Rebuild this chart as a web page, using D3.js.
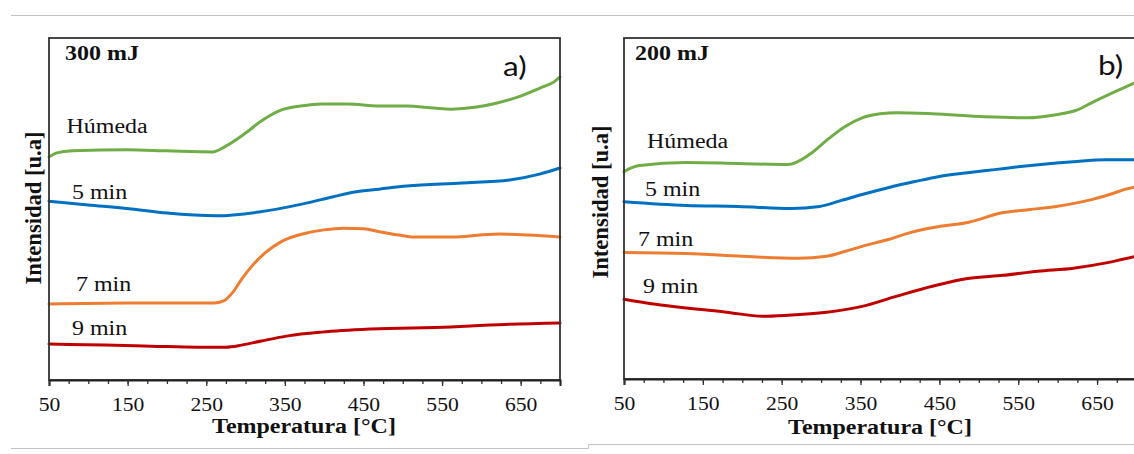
<!DOCTYPE html>
<html>
<head>
<meta charset="utf-8">
<script src="https://cdn.jsdelivr.net/npm/d3@7"></script>
<style>
  html, body { margin: 0; padding: 0; background: #fff; }
  svg { display: block; }
</style>
</head>
<body>
<svg id="chart" width="1134" height="454"></svg>
<script>
// Temperature grid and tick labels shared by both panels
const xTicksMajor = [50, 150, 250, 350, 450, 550, 650];
const xTicksMinor = [50, 75, 100, 125, 150, 175, 200, 225, 250, 275, 300, 325, 350, 375, 400, 425, 450, 475, 500, 525, 550, 575, 600, 625, 650, 675, 700];
const seriesNames = ["Húmeda", "5 min", "7 min", "9 min"];

// Panel a) 300 mJ — intensity [u.a] versus temperature [°C]
const a_humeda_T = [50, 60, 80, 150, 200, 258, 275, 300, 320, 345, 370, 397, 430, 470, 505, 540, 561, 594, 620, 646, 678, 692, 700];
const a_humeda_I = [65.2, 66.4, 67.0, 67.3, 67.0, 66.7, 68.4, 72.2, 75.7, 78.9, 80.1, 80.7, 80.7, 80.1, 80.1, 79.5, 79.2, 79.8, 81.0, 82.7, 85.7, 87.1, 88.6];
const a_5min_T = [50, 100, 155, 200, 263, 317, 373, 410, 439, 470, 505, 575, 636, 674, 700];
const a_5min_I = [52.3, 51.2, 50.0, 48.8, 48.0, 49.1, 51.5, 53.5, 55.0, 55.8, 56.7, 57.6, 58.5, 60.2, 62.0];
const a_7min_T = [50, 150, 260, 272, 284, 296, 307, 326, 345, 378, 400, 425, 450, 472, 495, 514, 561, 622, 660, 700];
const a_7min_I = [22.2, 22.5, 22.5, 23.1, 25.7, 29.8, 33.0, 37.4, 40.4, 43.0, 43.9, 44.4, 44.2, 43.3, 42.4, 41.8, 41.8, 42.7, 42.4, 41.8];
const a_9min_T = [50, 120, 180, 240, 275, 295, 320, 354, 397, 460, 561, 610, 700];
const a_9min_I = [10.5, 10.2, 9.9, 9.6, 9.6, 10.2, 11.4, 12.9, 14.0, 14.9, 15.5, 16.1, 16.7];

// Panel b) 200 mJ
const b_humeda_T = [50, 60, 70, 129, 195, 258, 285, 308, 330, 352, 375, 396, 441, 508, 562, 598, 625, 643, 678, 700];
const b_humeda_I = [60.8, 62.0, 62.6, 63.5, 63.2, 62.9, 65.8, 70.2, 74.0, 76.6, 77.8, 78.1, 77.8, 76.9, 76.6, 77.5, 78.9, 81.0, 84.8, 87.1];
const b_5min_T = [50, 129, 195, 262, 298, 325, 352, 385, 419, 450, 486, 520, 553, 620, 660, 700];
const b_5min_I = [52.0, 50.9, 50.6, 50.0, 50.6, 52.3, 54.1, 56.1, 57.9, 59.4, 60.5, 61.4, 62.3, 63.7, 64.3, 64.3];
const b_7min_T = [50, 129, 200, 271, 307, 330, 352, 385, 414, 450, 486, 531, 565, 598, 643, 670, 685, 700];
const b_7min_I = [37.1, 36.8, 36.0, 35.4, 36.0, 37.4, 38.9, 40.9, 43.0, 44.7, 45.9, 48.8, 49.7, 50.6, 52.6, 54.4, 55.6, 56.4];
const b_9min_T = [50, 90, 129, 180, 226, 258, 307, 352, 396, 441, 486, 531, 575, 620, 665, 700];
const b_9min_I = [23.4, 21.9, 20.8, 19.6, 18.4, 18.7, 19.6, 21.3, 24.3, 27.2, 29.5, 30.4, 31.6, 32.5, 34.2, 36.0];

const colors = ["#70AD47", "#0070C0", "#ED7D31", "#C00000"];
const SX = 1.17; // horizontal text stretch

function zip(T, I) { return T.map((t, i) => ({ t, v: I[i] })); }

const panels = [
  {
    title: "300 mJ", tag: "a)",
    x0: 49, x1: 560, y0: 38, y1: 380,
    series: [zip(a_humeda_T, a_humeda_I), zip(a_5min_T, a_5min_I), zip(a_7min_T, a_7min_I), zip(a_9min_T, a_9min_I)],
    labelPos: [[66.5, 133], [72, 199], [76, 291], [72, 335]],
    titlePos: [65, 60], tagPos: [503, 76],
    yTitle: [34, 208], xTitle: [304, 433]
  },
  {
    title: "200 mJ", tag: "b)",
    x0: 624, x1: 1136.5, y0: 38, y1: 379,
    series: [zip(b_humeda_T, b_humeda_I), zip(b_5min_T, b_5min_I), zip(b_7min_T, b_7min_I), zip(b_9min_T, b_9min_I)],
    labelPos: [[647, 148], [645, 196], [638, 246], [643, 293]],
    titlePos: [635, 60], tagPos: [1098, 75],
    yTitle: [601, 202], xTitle: [880, 434]
  }
];

const svg = d3.select("#chart");

// separator rules above and below the figure
svg.append("path").attr("d", "M11,15.5H1134").attr("stroke", "#c4c4c4").attr("fill", "none");
svg.append("path").attr("d", "M11,448.5H588.5V444.5H1134").attr("stroke", "#c4c4c4").attr("fill", "none");

function stretchedText(g, x, y, txt, opts) {
  return g.append("text")
    .attr("transform", `translate(${x},${y}) scale(${opts.sx || SX},1)`)
    .attr("text-anchor", opts.anchor || "start")
    .attr("font-family", opts.family || "'Liberation Serif', 'Times New Roman', serif")
    .attr("font-size", opts.size)
    .attr("font-weight", opts.weight || "normal")
    .attr("fill", opts.fill || "#111")
    .text(txt);
}

panels.forEach(p => {
  const g = svg.append("g");
  const x = d3.scaleLinear().domain([50, 700]).range([p.x0, p.x1]);
  const y = d3.scaleLinear().domain([0, 100]).range([p.y1, p.y0]);

  // curves
  const line = d3.line().x(d => x(d.t)).y(d => y(d.v)).curve(d3.curveMonotoneX);
  p.series.forEach((s, i) => {
    g.append("path").datum(s)
      .attr("d", line)
      .attr("fill", "none")
      .attr("stroke", colors[i])
      .attr("stroke-width", 3)
      .attr("stroke-linejoin", "round")
      .attr("stroke-linecap", "round");
  });

  // frame
  g.append("rect")
    .attr("x", p.x0).attr("y", p.y0)
    .attr("width", p.x1 - p.x0).attr("height", p.y1 - p.y0)
    .attr("fill", "none").attr("stroke", "#333").attr("stroke-width", 1.8);

  // minor ticks
  g.append("g")
    .attr("transform", `translate(0,${p.y1})`)
    .call(d3.axisBottom(x).tickValues(xTicksMinor).tickSize(4).tickFormat(""))
    .call(a => a.select(".domain").remove())
    .call(a => a.selectAll("line").attr("stroke", "#333").attr("stroke-width", 1.3));

  // major ticks with labels
  g.append("g")
    .attr("transform", `translate(0,${p.y1})`)
    .call(d3.axisBottom(x).tickValues(xTicksMajor).tickSize(6).tickPadding(12).tickFormat(d3.format("d")))
    .call(a => a.select(".domain").attr("stroke", "#222").attr("stroke-width", 2))
    .call(a => a.selectAll("line").attr("stroke", "#333").attr("stroke-width", 1.3))
    .call(a => a.selectAll("text")
      .attr("font-family", "'Liberation Serif', 'Times New Roman', serif")
      .attr("font-size", 18.5)
      .attr("fill", "#111")
      .attr("transform", `scale(${SX},1)`));

  // series labels
  seriesNames.forEach((n, i) => {
    stretchedText(g, p.labelPos[i][0], p.labelPos[i][1], n, { size: 20.5 });
  });

  // energy title and panel tag
  stretchedText(g, p.titlePos[0], p.titlePos[1], p.title, { size: 20.5, weight: "bold" });
  stretchedText(g, p.tagPos[0], p.tagPos[1], p.tag, { size: 27, family: "Lato, 'Open Sans', sans-serif", fill: "#111" });

  // axis titles
  stretchedText(g, p.xTitle[0], p.xTitle[1], "Temperatura [°C]", { size: 20.5, weight: "bold", anchor: "middle" });
  g.append("text")
    .attr("transform", `translate(${p.yTitle[0] + 7},${p.yTitle[1]}) rotate(-90) scale(1.13,1.15)`)
    .attr("text-anchor", "middle")
    .attr("font-family", "'Liberation Serif', 'Times New Roman', serif")
    .attr("font-size", 20)
    .attr("font-weight", "bold")
    .attr("fill", "#111")
    .text("Intensidad [u.a]");
});
</script>
</body>
</html>
